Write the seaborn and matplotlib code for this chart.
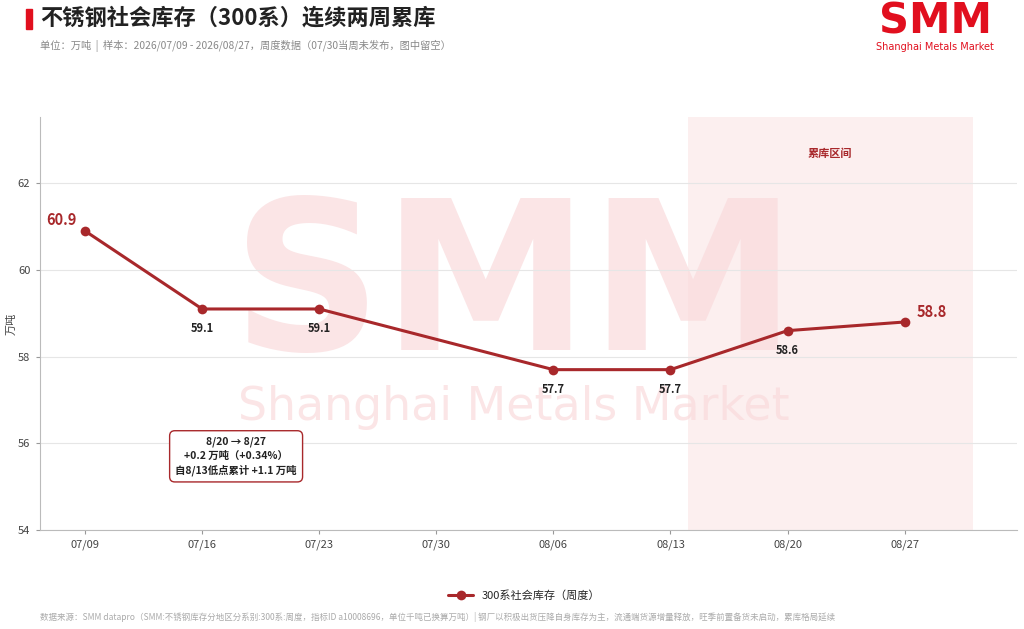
import numpy as np
import pandas as pd
import seaborn as sns
import matplotlib.pyplot as plt

# weekly data (07/30 not published -> left blank)
weeks = ['07/09', '07/16', '07/23', '07/30', '08/06', '08/13', '08/20', '08/27']
stock = [60.9, 59.1, 59.1, np.nan, 57.7, 57.7, 58.6, 58.8]
y_ticks = [54, 56, 58, 60, 62]

RED = '#a8282b'
LOGO_RED = '#e10f1e'

sns.set_theme(style='white')
plt.rcParams['font.family'] = ['Noto Sans CJK SC', 'DejaVu Sans']
plt.rcParams['axes.unicode_minus'] = False

df = pd.DataFrame({'idx': np.arange(len(weeks)), 'stock': stock}).dropna()

fig = plt.figure(figsize=(10.24, 6.29), dpi=100)
ax = fig.add_axes([40 / 1024, 1 - 530 / 629, 977 / 1024, 413 / 629])
ax.patch.set_alpha(0)

# watermark
fig.text(0.502, 1 - 292 / 629, 'SMM', fontsize=150, fontweight='bold', color='#fbe5e6',
         ha='center', va='center', family='DejaVu Sans', zorder=-2)
fig.text(0.502, 1 - 408 / 629, 'Shanghai Metals Market', fontsize=33, color='#fbe5e6',
         ha='center', va='center', family='DejaVu Sans', zorder=-2)

# accumulation zone
ax.axvspan(5.15, 7.58, color='#f9dcdd', alpha=0.45, lw=0, zorder=0)
ax.text(6.36, 62.7, '累库区间', color=RED, fontsize=8, fontweight='bold',
        ha='center', va='center')

ax.grid(axis='y', color='#e6e6e6', lw=0.8)
ax.set_axisbelow(True)

sns.lineplot(data=df, x='idx', y='stock', ax=ax, color=RED, lw=2.2, marker='o',
             markersize=7, markeredgewidth=0, label='300系社会库存（周度）', zorder=3)

for i, v in zip(df['idx'], df['stock']):
    if i == 0:
        ax.text(i - 0.2, v + 0.25, f'{v:.1f}', color=RED, fontsize=10.5,
                fontweight='bold', ha='center', va='center')
    elif i == len(weeks) - 1:
        ax.text(i + 0.23, v + 0.22, f'{v:.1f}', color=RED, fontsize=10.5,
                fontweight='bold', ha='center', va='center')
    else:
        ax.text(i, v - 0.45, f'{v:.1f}', color='#222222', fontsize=8,
                fontweight='bold', ha='center', va='center')

ax.text(1.29, 55.7, '8/20 → 8/27\n+0.2 万吨（+0.34%）\n自8/13低点累计 +1.1 万吨',
        fontsize=7.5, fontweight='bold', color='#222222', ha='center', va='center',
        linespacing=1.45,
        bbox=dict(boxstyle='round,pad=0.55,rounding_size=0.5', fc='white',
                  ec=RED, lw=1))

ax.set_xlim(-0.385, 7.96)
ax.set_ylim(54, 63.53)
ax.set_xticks(range(len(weeks)))
ax.set_xticklabels(weeks)
ax.set_yticks(y_ticks)
ax.tick_params(axis='both', labelsize=8, colors='#444444', length=3, width=0.8,
               color='#999999', bottom=True, left=True, pad=4)
ax.set_xlabel('')
ax.set_ylabel('万吨', fontsize=8, color='#444444', labelpad=1)
for s in ['top', 'right']:
    ax.spines[s].set_visible(False)
for s in ['left', 'bottom']:
    ax.spines[s].set_color('#bbbbbb')
    ax.spines[s].set_linewidth(0.8)

ax.legend(loc='center', bbox_to_anchor=(0.512, 1 - 596 / 629), bbox_transform=fig.transFigure,
          frameon=False, fontsize=8, handlelength=2.2)

# header
fig.patches.append(plt.Rectangle((26 / 1024, 1 - 29 / 629), 6 / 1024, 20 / 629,
                                 transform=fig.transFigure, color=LOGO_RED))
fig.text(40 / 1024, 1 - 18 / 629, '不锈钢社会库存（300系）连续两周累库', fontsize=16,
         fontweight='bold', color='#222222', va='center')
fig.text(40 / 1024, 1 - 46 / 629,
         '单位：万吨  |  样本：2026/07/09 - 2026/08/27，周度数据（07/30当周未发布，图中留空）',
         fontsize=7.4, color='#888888', va='center')
fig.text(935 / 1024, 1 - 22 / 629, 'SMM', fontsize=30, fontweight='heavy',
         color=LOGO_RED, ha='center', va='center', family='DejaVu Sans')
fig.text(935 / 1024, 1 - 47 / 629, 'Shanghai Metals Market', fontsize=7, color=LOGO_RED,
         ha='center', va='center', family='DejaVu Sans')

fig.text(40 / 1024, 1 - 617 / 629,
         '数据来源：SMM datapro（SMM:不锈钢库存分地区分系别:300系:周度，指标ID a10008696，单位千吨已换算万吨）| '
         '钢厂以积极出货压降自身库存为主，流通端货源增量释放，旺季前置备货未启动，累库格局延续',
         fontsize=6.1, color='#aaaaaa', va='center')

fig.savefig('out.png', dpi=100)
